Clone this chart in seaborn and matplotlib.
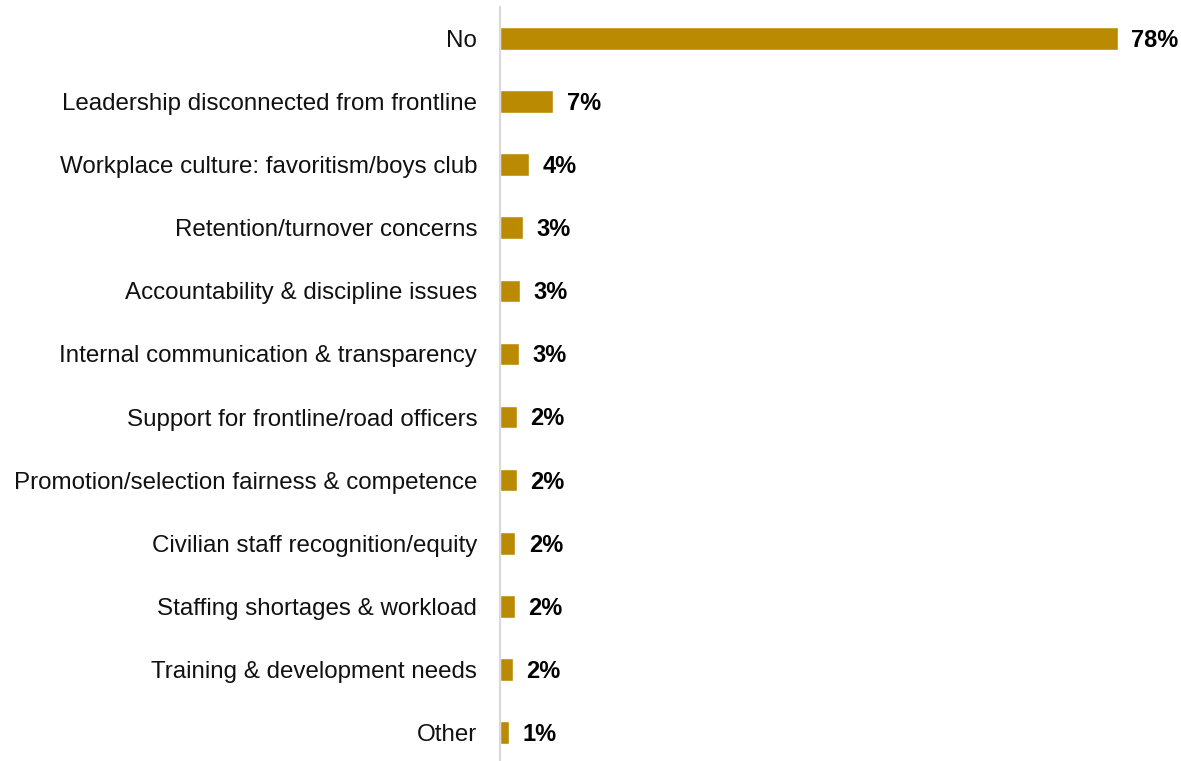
import matplotlib
matplotlib.use("Agg")
import matplotlib.pyplot as plt
import seaborn as sns
import pandas as pd
from decimal import Decimal, ROUND_HALF_UP

categories = [
    "No",
    "Leadership disconnected from frontline",
    "Workplace culture: favoritism/boys club",
    "Retention/turnover concerns",
    "Accountability & discipline issues",
    "Internal communication & transparency",
    "Support for frontline/road officers",
    "Promotion/selection fairness & competence",
    "Civilian staff recognition/equity",
    "Staffing shortages & workload",
    "Training & development needs",
    "Other",
]
shares = [78.0, 6.8, 3.7, 3.0, 2.6, 2.5, 2.2, 2.2, 2.0, 1.9, 1.7, 1.2]

df = pd.DataFrame({"category": categories, "share": shares})

sns.set_theme(style="white")
plt.rcParams["font.family"] = ["Liberation Sans", "DejaVu Sans"]

W, H, DPI = 1181, 761, 100
fig = plt.figure(figsize=(W / DPI, H / DPI), dpi=DPI)
left_px, top_px, bottom_px = 499.5, 7, -3
right_px = W
ax = fig.add_axes([left_px / W, bottom_px / H,
                   (right_px - left_px) / W, (H - top_px - bottom_px) / H])

bar_color = "#BB8A03"
sns.barplot(data=df, x="share", y="category", orient="h", color=bar_color,
            saturation=1, width=0.36, ax=ax)

x_max = 78.0 * (right_px - left_px) / 618.5
ax.set_xlim(0, x_max)
ax.set_ylim(len(categories) - 0.5, -0.5)

value_size = 17
for i, v in enumerate(df["share"]):
    label = f"{int(Decimal(str(v)).quantize(Decimal('1'), rounding=ROUND_HALF_UP))}%"
    ax.annotate(label, xy=(v, i), xytext=(9.7, -0.358 * value_size),
                textcoords="offset points", ha="left", va="baseline",
                fontsize=value_size, fontweight="bold", color="black",
                clip_on=False)

ax.set_xlabel("")
ax.set_ylabel("")
ax.set_xticks([])
ax.tick_params(axis="y", length=0, pad=16, labelsize=17.4, labelcolor="#111111")
for s in ["top", "right", "bottom"]:
    ax.spines[s].set_visible(False)
ax.spines["left"].set_color("#d9d9d9")
ax.spines["left"].set_linewidth(1.5)
ax.grid(False)

fig.savefig("out.png", dpi=DPI)
